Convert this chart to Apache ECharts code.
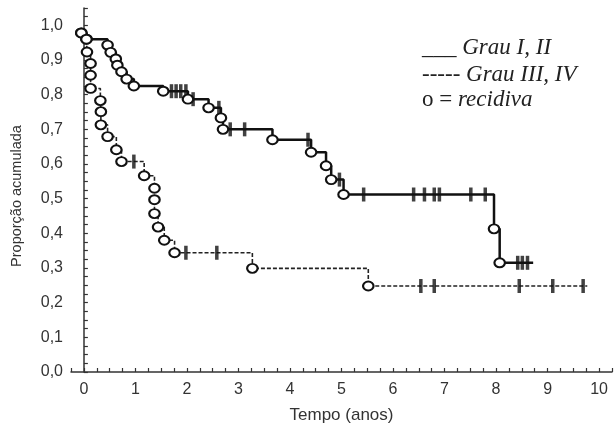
<!DOCTYPE html>
<html>
<head>
<meta charset="utf-8">
<script src="https://cdn.jsdelivr.net/npm/echarts@6/dist/echarts.min.js"></script>
<style>
  html,body{margin:0;padding:0;background:#fff;}
  #curva{width:615px;height:429px;}
</style>
</head>
<body>
<div id="curva"></div>
<script>
// Grau I, II : tempos dos eventos (recidiva) e proporção depois de cada um
var grau12Tempo=[-0.05,0.05,0.46,0.52,0.62,0.65,0.73,0.83,0.97,1.54,2.02,2.42,2.66,2.70,3.66,4.41,4.70,4.80,5.04,7.96,8.07];
var grau12Prop=[0.978,0.96,0.943,0.922,0.903,0.885,0.866,0.845,0.825,0.81,0.787,0.762,0.733,0.70,0.67,0.634,0.595,0.555,0.512,0.413,0.315];
var grau12Fim=8.72;
var grau12Censura=[1.70,1.79,1.88,1.98,2.12,2.62,2.84,3.12,4.35,4.96,5.43,6.40,6.61,6.80,6.90,7.51,7.79,8.42,8.51,8.61];

// Grau III, IV
var grau34Tempo=[-0.05,0.05,0.06,0.13,0.13,0.13,0.32,0.33,0.33,0.46,0.63,0.73,1.17,1.37,1.37,1.37,1.44,1.56,1.76,3.27,5.52];
var grau34Prop=[0.978,0.96,0.923,0.89,0.856,0.818,0.783,0.751,0.713,0.679,0.641,0.607,0.566,0.53,0.497,0.457,0.418,0.38,0.344,0.299,0.248];
var grau34Fim=9.77;
var grau34Censura=[0.97,1.98,2.58,6.54,6.80,8.45,9.10,9.69];

// eixos
var xMin=-0.25, xMax=10.25, xPasso=0.25;
var yMin=0, yMax=1.05, yPasso=0.025;

var preto='#111';

// pontos da curva em degraus
var pontosCurva=function(tempos,props,fim){
  var pts=tempos.map(function(t,i){return [t,props[i]];});
  pts.push([fim,props[props.length-1]]);
  return pts;
};
// valor da curva num tempo (para as censuras)
var valorEm=function(tempos,props,t){
  var v=props[0];
  for(var i=0;i<tempos.length;i++){
    if(tempos[i]<=t){v=props[i];}
  }
  return v;
};
var pontosCensura=function(tempos,props,cens){
  return cens.map(function(t){return [t,valorEm(tempos,props,t)];});
};
var pontosEvento=function(tempos,props){
  return tempos.map(function(t,i){return [t,props[i]];});
};

var serifa='"Liberation Serif", serif';
var legenda=function(top,a,b){
  return {
    type:'text',left:422,top:top,
    style:{
      text:'{u|'+a+'}{i|'+b+'}',
      rich:{
        u:{font:'23px '+serifa,fill:'#222'},
        i:{font:'italic 23px '+serifa,fill:'#222'}
      }
    }
  };
};

var chart=echarts.init(document.getElementById("curva"));
chart.setOption({
  animation:false,
  backgroundColor:'#fff',
  textStyle:{fontFamily:'"Liberation Sans", Arial, sans-serif'},
  grid:{left:71,right:2,top:8,bottom:56},
  xAxis:{
    type:'value',
    min:xMin,max:xMax,interval:xPasso,
    name:'Tempo (anos)',
    nameLocation:'middle',
    nameGap:35,
    nameTextStyle:{fontSize:17,color:'#333'},
    axisLine:{lineStyle:{color:'#333',width:1.5}},
    axisTick:{inside:true,length:4,lineStyle:{color:'#333',width:1.2}},
    axisLabel:{
      interval:0,margin:10,fontSize:16,color:'#333',
      formatter:function(v){
        var r=Math.round(v);
        return (Math.abs(v-r)<1e-6 && r>=0)?String(r):'';
      }
    },
    splitLine:{show:false}
  },
  yAxis:{
    type:'value',
    min:yMin,max:yMax,interval:yPasso,
    name:'Proporção acumulada',
    nameLocation:'middle',
    nameGap:47,
    nameTextStyle:{fontSize:14.5,color:'#333',padding:[0,12,0,0]},
    axisLine:{show:true,lineStyle:{color:'#333',width:1.5}},
    axisTick:{show:true,inside:true,length:4,lineStyle:{color:'#333',width:1.2}},
    axisLabel:{
      interval:0,margin:8,fontSize:16,color:'#333',
      formatter:function(v){
        var r=Math.round(v*10);
        return Math.abs(v*10-r)<1e-6?(r/10).toFixed(1).replace('.',','):'';
      }
    },
    splitLine:{show:false}
  },
  graphic:[
    legenda(36,'___ ','Grau I, II'),
    legenda(63,'----- ','Grau III, IV'),
    legenda(88,'o = ','recidiva')
  ],
  series:[
    {
      name:'Grau III, IV',
      type:'line',
      step:'end',
      symbol:'none',
      data:pontosCurva(grau34Tempo,grau34Prop,grau34Fim),
      lineStyle:{color:'#222',width:1.6,type:[4,2]},
      z:2
    },
    {
      name:'Grau I, II',
      type:'line',
      step:'end',
      symbol:'none',
      data:pontosCurva(grau12Tempo,grau12Prop,grau12Fim),
      lineStyle:{color:preto,width:2.5},
      z:3
    },
    {
      type:'scatter',
      symbol:'rect',
      symbolSize:[3.5,14],
      data:pontosCensura(grau34Tempo,grau34Prop,grau34Censura),
      itemStyle:{color:preto},
      z:4
    },
    {
      type:'scatter',
      symbol:'rect',
      symbolSize:[3.5,14],
      data:pontosCensura(grau12Tempo,grau12Prop,grau12Censura),
      itemStyle:{color:preto},
      z:4
    },
    {
      type:'scatter',
      symbol:'circle',
      symbolSize:[10.5,9],
      data:pontosEvento(grau34Tempo,grau34Prop),
      itemStyle:{color:'#fff',borderColor:preto,borderWidth:2,opacity:1},
      z:5
    },
    {
      type:'scatter',
      symbol:'circle',
      symbolSize:[10.5,9],
      data:pontosEvento(grau12Tempo,grau12Prop),
      itemStyle:{color:'#fff',borderColor:preto,borderWidth:2,opacity:1},
      z:5
    }
  ]
});
</script>
</body>
</html>
